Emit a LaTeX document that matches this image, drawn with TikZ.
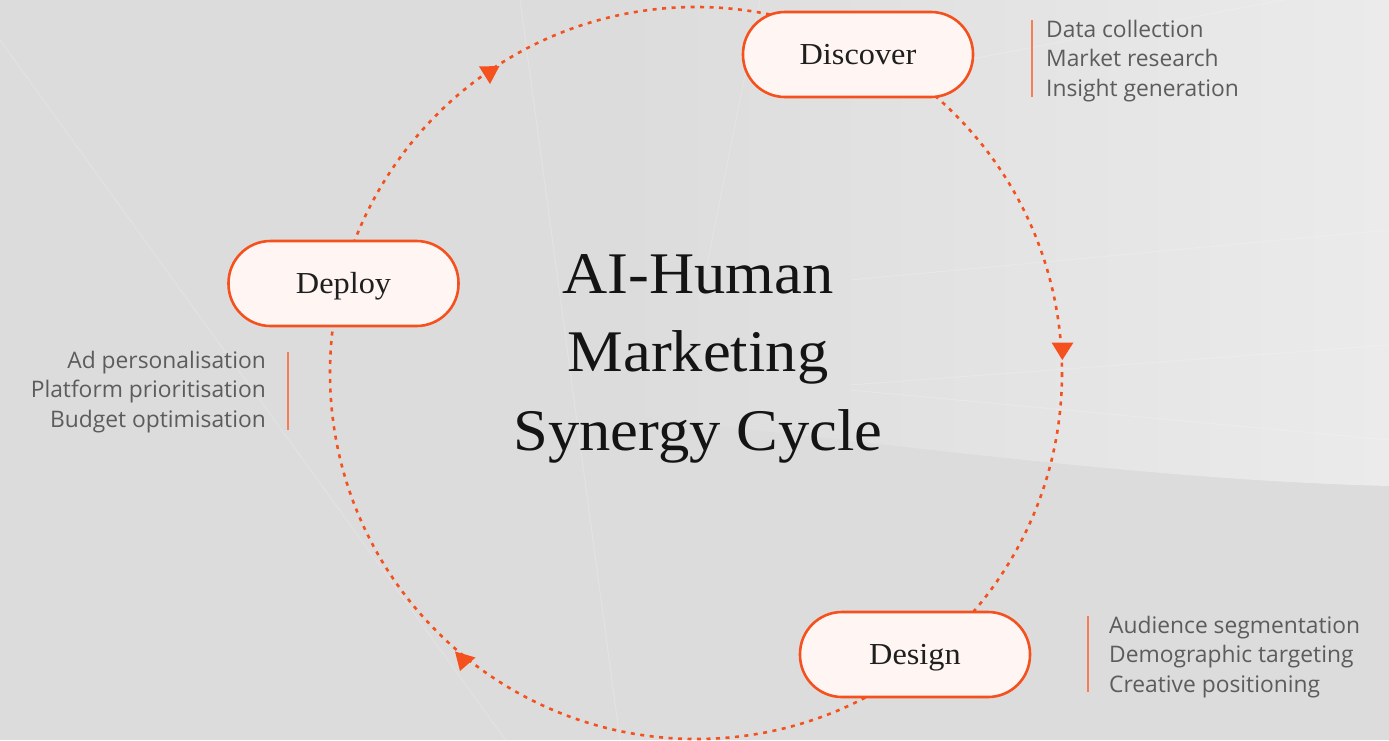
\documentclass[tikz,border=0pt]{standalone}
\usepackage{fontspec}
\newfontfamily\notefont{Open Sans}
\newfontfamily\headfont[FakeStretch=1.06]{Liberation Serif}
\definecolor{accent}{HTML}{F4511E}
\definecolor{pillfill}{HTML}{FFF5F2}
\definecolor{bgdark}{HTML}{DCDCDC}
\definecolor{bglight}{HTML}{EBEBEB}
\definecolor{notegray}{HTML}{5C5C5C}
\begin{document}
\begin{tikzpicture}[x=1pt,y=-1pt,
  pill/.style={draw=accent, line width=2.6pt, fill=pillfill, rounded corners=42pt,
    minimum width=230pt, minimum height=85pt, inner sep=0pt,
    text height=21pt, text depth=2pt,
    font=\headfont\fontsize{30.5}{30.5}\selectfont, text=black!88},
  cyclepath/.style={draw=accent, line width=2.6pt, dash pattern=on 4pt off 5.5pt},
  notes/.style={font=\notefont\fontsize{22.8}{29.5}\selectfont, text=notegray, inner sep=0pt},
  notebar/.style={draw=accent!75, line width=1.3pt},
  tipmark/.style={fill=accent},
  streak/.style={draw=white, line width=1pt, opacity=0.18},
  title/.style={font=\headfont\fontsize{59}{78.5}\selectfont, text=black!92, align=center, inner sep=0pt}]

% backdrop
\useasboundingbox (0,0) rectangle (1389,740);
\fill[bgdark] (0,0) rectangle (1389,740);
\shade[left color=bgdark, right color=bglight]
  (620,0) -- (1389,0) -- (1389,486)
  .. controls (1150,480) and (900,445) .. (620,415) -- cycle;
\draw[streak] (0,40) -- (520,760);
\draw[streak] (520,0) -- (620,740);
\draw[streak] (760,0) -- (700,300);
\draw[streak] (860,80) -- (1389,-20);
\draw[streak] (850,280) -- (1389,230);
\draw[streak] (850,385) -- (1389,345);
\draw[streak] (850,390) -- (1389,440);

% the cycle
\coordinate (hub) at (696,373);
\draw[cyclepath] (hub) circle (366);

% direction marks on the cycle
\fill[tipmark] (479,66.5) -- (499.5,66) -- (490,84) -- cycle;
\fill[tipmark] (1051.5,342.5) -- (1073.5,342.5) -- (1062.3,360) -- cycle;
\fill[tipmark] (455,651.5) -- (475.5,657.5) -- (460,671) -- cycle;

% stages
\node[pill] (discover) at (858,54.5) {Discover};
\node[pill] (design) at (915,654.5) {Design};
\node[pill] (deploy) at (343.5,283.5) {Deploy};

% centre title
\node[title] (heading) at (698,358.5) {AI-Human\\Marketing\\Synergy Cycle};

% stage notes
\node[notes, anchor=west, align=left] (discovernotes) at (1046,60.6)
  {Data collection\\Market research\\Insight generation};
\draw[notebar] (1032,20) -- (1032,97);

\node[notes, anchor=east, align=right] (deploynotes) at (266,391.6)
  {Ad personalisation\\Platform prioritisation\\Budget optimisation};
\draw[notebar] (288,352) -- (288,430);

\node[notes, anchor=west, align=left] (designnotes) at (1109,656.6)
  {Audience segmentation\\Demographic targeting\\Creative positioning};
\draw[notebar] (1088,616) -- (1088,692);
\end{tikzpicture}
\end{document}
